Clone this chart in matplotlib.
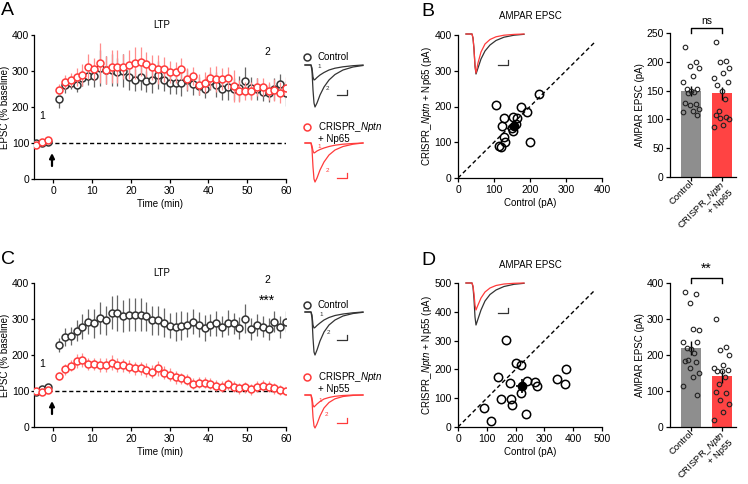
import numpy as np
import matplotlib.pyplot as plt
from matplotlib.transforms import ScaledTranslation

plt.rcParams['font.family'] = ['Liberation Sans', 'DejaVu Sans']
plt.rcParams['mathtext.fontset'] = 'custom'
plt.rcParams['mathtext.rm'] = 'Liberation Sans'
plt.rcParams['mathtext.it'] = 'Liberation Sans:italic'
plt.rcParams['axes.linewidth'] = 0.9
plt.rcParams['xtick.major.width'] = 0.9
plt.rcParams['ytick.major.width'] = 0.9
plt.rcParams['xtick.major.size'] = 3
plt.rcParams['ytick.major.size'] = 3
plt.rcParams['xtick.major.pad'] = 2
plt.rcParams['ytick.major.pad'] = 1.5

RED = '#ff3b3b'
RED_ERR = '#ff8c8c'
GRAY_BAR = '#8e8e8e'
RED_BAR = '#ff4343'

# ---------------- data ----------------
# time course sampling (min)
time_base = [-4.5, -3, -1.5]
time_post = np.arange(1.5, 60.1, 1.5)

# A: LTP, control vs CRISPR_Nptn + Np65
a_ctrl = [100, 100, 103,
          223, 260, 268, 262, 280, 285, 285, 308, 303, 303, 297, 301, 283, 275, 283, 271,
          275, 289, 275, 266, 266, 266, 275, 264, 259, 250, 271, 262, 250, 255, 250, 252,
          271, 252, 250, 241, 238, 250, 263, 238]
a_ctrl_err = [5, 5, 5,
              25, 20, 18, 20, 22, 25, 30, 50, 40, 45, 40, 45, 35, 30, 35, 30,
              35, 40, 30, 30, 30, 35, 30, 30, 25, 25, 25, 35, 30, 35, 30, 35,
              40, 30, 30, 25, 25, 30, 30, 35]
a_np65 = [95, 103, 108,
          248, 269, 275, 283, 289, 312, 305, 322, 303, 312, 312, 312, 317, 322, 326, 319,
          310, 305, 305, 298, 296, 305, 277, 287, 262, 268, 280, 278, 278, 281, 258, 245,
          245, 245, 255, 255, 245, 248, 240, 253]
a_np65_err = [5, 5, 6,
              15, 20, 20, 25, 30, 35, 30, 55, 40, 45, 45, 35, 40, 45, 40, 35,
              35, 40, 35, 30, 30, 30, 30, 25, 30, 30, 30, 35, 30, 30, 45, 30,
              25, 25, 25, 25, 25, 30, 30, 30]

# C: LTP, control vs CRISPR_Nptn + Np55
c_ctrl = [98, 105, 112,
          227, 251, 254, 268, 279, 293, 288, 302, 296, 318, 318, 309, 312, 312, 312, 307,
          296, 296, 290, 281, 279, 281, 284, 293, 284, 275, 284, 288, 279, 290, 288, 275,
          301, 272, 284, 279, 272, 293, 277, 293]
c_ctrl_err = [6, 6, 8,
              20, 25, 25, 30, 35, 35, 40, 45, 40, 45, 50, 45, 45, 45, 45, 40,
              40, 40, 40, 35, 40, 40, 35, 35, 35, 35, 30, 35, 30, 35, 30, 30,
              40, 30, 30, 30, 30, 30, 30, 30]
c_np55 = [100, 97, 102,
          142, 160, 170, 184, 186, 175, 175, 172, 172, 179, 172, 172, 168, 163, 163, 158,
          154, 163, 151, 145, 138, 135, 131, 120, 123, 123, 120, 115, 112, 119, 112, 107,
          110, 105, 112, 115, 112, 107, 103, 101]
c_np55_err = [5, 5, 5,
              12, 15, 15, 20, 20, 18, 18, 20, 20, 20, 20, 18, 18, 18, 18, 20,
              18, 20, 18, 18, 18, 15, 15, 15, 15, 15, 15, 15, 15, 15, 15, 15,
              15, 15, 15, 15, 15, 15, 15, 15]

# B: paired AMPAR EPSC (pA)
b_ctrl_pa = [106, 127, 121, 153, 176, 165, 191, 226, 127, 130, 113, 119, 152, 200, 150, 162]
b_np65_pa = [204, 167, 146, 172, 199, 167, 186, 234, 116, 100, 90, 86, 132, 100, 140, 150]
b_mean = (156, 146)
b_sem = (12, 12)

# B bars
b_bar_ctrl = [225, 200, 192, 190, 175, 165, 153, 152, 150, 147, 145, 128, 126, 125, 118, 115, 113, 107]
b_bar_np65 = [234, 202, 200, 190, 180, 172, 165, 160, 150, 135, 115, 108, 104, 102, 101, 90, 86]
b_bar_mean = [149, 145]
b_bar_sem = [9, 12]

# D: paired AMPAR EPSC (pA)
d_ctrl_pa = [166, 203, 220, 138, 179, 238, 269, 274, 344, 375, 371, 220, 151, 185, 186, 91, 116, 237]
d_np55_pa = [301, 222, 214, 174, 154, 161, 157, 142, 168, 200, 148, 118, 97, 96, 76, 67, 20, 44]
d_mean = (221, 142)
d_sem = (19, 25)

# D bars
d_bar_ctrl = [375, 370, 345, 270, 272, 237, 235, 220, 218, 205, 185, 182, 180, 165, 150, 140, 115, 90]
d_bar_np55 = [300, 222, 215, 200, 172, 165, 158, 155, 155, 140, 120, 97, 95, 75, 65, 42, 20]
d_bar_mean = [219, 141]
d_bar_sem = [20, 18]

bar_labels = ['Control', 'CRISPR_$\\it{Nptn}$']
bar_sub_b = ['', '+ Np65']
bar_sub_d = ['', '+ Np55']

# example traces (time in ms, current in arbitrary units)
trace_t = [0, 6, 7, 8, 9, 10, 12, 15, 19, 24, 30, 38, 48, 58]
a_ctrl_tr1 = [0, 0, -3, -12, -15, -14.5, -12.5, -10, -7.5, -5, -3.2, -1.8, -0.7, 0]
a_ctrl_tr2 = [0, 0, -6, -25, -38, -42, -38, -30, -22, -15, -9.5, -5, -2, -0.5]
a_np65_tr1 = [0, 0, -3, -8, -10, -9.5, -8, -6.5, -5, -3.5, -2.2, -1.2, -0.5, 0]
a_np65_tr2 = [0, 0, -6, -24, -36, -39, -35, -27, -19, -12, -7, -3.5, -1.2, 0]
c_ctrl_tr1 = [0, 0, -3, -13, -16, -15.5, -13.5, -11, -8, -5.5, -3.5, -2, -0.8, 0]
c_ctrl_tr2 = [0, 0, -6, -26, -40, -43, -38, -29, -20, -13, -8, -4, -1.5, -0.3]
c_np55_tr1 = [0, 0, -3, -10, -12, -11, -9, -6.5, -4, -2.5, -1.3, -0.5, 0, 0]
c_np55_tr2 = [0, 0, -6, -22, -31, -33, -29, -21, -13, -7.5, -3.8, -1.5, -0.4, 0]
b_ctrl_tr = [0, 0, -4, -15, -32, -40, -34, -25, -17, -11, -6.5, -3.2, -1.2, -0.3]
b_np65_tr = [0, 0, -4, -15, -32, -39, -29, -18, -10, -5.5, -2.8, -1.2, -0.4, 0]
d_ctrl_tr = [0, 0, -4, -16, -34, -42, -36, -27, -18, -11.5, -7, -3.5, -1.3, -0.3]
d_np55_tr = [0, 0, -3, -11, -22, -27, -22, -15, -9, -5, -2.5, -1, -0.3, 0]

# ---------------- figure ----------------
W, H = 748, 484
fig = plt.figure(figsize=(W / 100, H / 100), dpi=100)


def px_axes(left, top, right, bottom):
    return fig.add_axes([left / W, 1 - bottom / H, (right - left) / W, (bottom - top) / H])


def clean(ax):
    ax.spines['top'].set_visible(False)
    ax.spines['right'].set_visible(False)


def time_course(ax, ctrl, ctrl_err, ko, ko_err):
    t = np.concatenate([time_base, time_post])
    ax.axhline(100, color='black', lw=1, ls=(0, (3, 2)), zorder=1)
    ax.errorbar(t, ctrl, yerr=ctrl_err, fmt='o', ms=5, mfc='white', mec='#333333',
                mew=1.1, ecolor='#666666', elinewidth=0.9, capsize=0, zorder=3)
    ax.errorbar(t, ko, yerr=ko_err, fmt='o', ms=5, mfc='white', mec=RED,
                mew=1.1, ecolor=RED_ERR, elinewidth=0.9, capsize=0, zorder=4)
    ax.set_xlim(-5, 60)
    ax.set_ylim(0, 400)
    ax.set_xticks([0, 10, 20, 30, 40, 50, 60])
    ax.set_yticks([0, 100, 200, 300, 400])
    ax.tick_params(labelsize=7.5)
    ax.tick_params(axis='y', length=2.5, pad=1)
    ax.set_xlabel('Time (min)', fontsize=7, labelpad=2)
    ax.set_ylabel('EPSC (% baseline)', fontsize=7)
    ax.yaxis.set_label_coords(-24 / 252, 0.5)
    clean(ax)


def pair_scatter(ax, xs, ys, mean, sem, lim, diag_end, ylabel):
    ax.plot([0, diag_end], [0, diag_end], color='black', lw=1, ls=(0, (3, 2)), zorder=1)
    ax.plot(xs, ys, 'o', ms=6, mfc='none', mec='black', mew=1.1, clip_on=False, zorder=3)
    ax.errorbar([mean[0]], [mean[1]], xerr=[sem[0]], yerr=[sem[1]], fmt='o', ms=6,
                color='black', elinewidth=1.2, capsize=0, zorder=4)
    ax.set_xlim(0, lim)
    ax.set_ylim(0, lim)
    ax.set_xticks(np.arange(0, lim + 1, 100))
    ax.set_yticks(np.arange(0, lim + 1, 100))
    ax.tick_params(labelsize=7.5)
    ax.set_xlabel('Control (pA)', fontsize=7, labelpad=2)
    ax.set_ylabel(ylabel, fontsize=7)
    ax.yaxis.set_label_coords(-24 / 144, 0.5)
    clean(ax)


def bar_panel(ax, ctrl, ko, means, sems, ymax, ystep, sub, sig, sig_size, br_lo, br_hi):
    ax.bar([0, 1], means, width=0.66, color=[GRAY_BAR, RED_BAR], zorder=1)
    ax.errorbar([0, 1], means, yerr=sems, fmt='none', ecolor='black', elinewidth=1,
                capsize=0, zorder=2)
    offsets = [-0.2, 0.15, -0.05, 0.25, 0.05, -0.25, 0.2, -0.15, 0.0, 0.1, -0.1]
    for i, vals in enumerate([ctrl, ko]):
        xs = [i + offsets[k % len(offsets)] for k in range(len(vals))]
        ax.plot(xs, vals, 'o', ms=3.3, mfc='none', mec='#222222', mew=0.8, zorder=3)
    ax.plot([0, 0, 1, 1], [br_lo, br_hi, br_hi, br_lo], color='black', lw=1, clip_on=False)
    ax.text(0.5, br_hi + (br_hi - br_lo) * 0.4, sig, ha='center', va='bottom',
            fontsize=sig_size)
    ax.set_xlim(-0.69, 1.47)
    ax.set_ylim(0, ymax)
    ax.set_yticks(np.arange(0, ymax + 1, ystep))
    ax.set_xticks([0, 1])
    ax.set_xticklabels(bar_labels, rotation=45, ha='right', rotation_mode='anchor',
                       fontsize=6.8)
    ax.tick_params(axis='x', pad=0.5, length=3)
    shift = ScaledTranslation(-0.02, 0.03, fig.dpi_scale_trans)
    line2 = ScaledTranslation(0.088, -0.088, fig.dpi_scale_trans)
    for pos, lbl in enumerate(ax.get_xticklabels()):
        base_tr = lbl.get_transform()
        lbl.set_transform(base_tr + shift)
        if sub[pos]:
            ax.text(pos, 0, sub[pos], transform=base_tr + shift + line2, rotation=45,
                    ha='right', va='top', rotation_mode='anchor', fontsize=6.8)
    ax.tick_params(axis='y', labelsize=7.5)
    ax.set_ylabel('AMPAR EPSC (pA)', fontsize=7)
    ax.yaxis.set_label_coords(-25 / 66, 0.5)
    clean(ax)


def trace_axes(left, base_y, traces, colors, scale_y, nums=None):
    ax = px_axes(left, base_y - 8, left + 62, base_y + 52)
    ax.set_xlim(0, 62)
    ax.set_ylim(-52, 8)
    ax.axis('off')
    for tr, c in zip(traces, colors):
        ax.plot(trace_t, tr, color=c, lw=0.9, clip_on=False)
    ax.plot([32, 42, 42], [scale_y, scale_y, scale_y + 5], color=colors[0], lw=0.9)
    if nums:
        for txt, (nx, ny) in nums:
            ax.text(nx, ny, txt, fontsize=4.5, color=colors[0], ha='center', va='center')
    return ax


# A
axA = px_axes(34, 35, 286, 179)
time_course(axA, a_ctrl, a_ctrl_err, a_np65, a_np65_err)
# C
axC = px_axes(34, 283, 286, 427)
time_course(axC, c_ctrl, c_ctrl_err, c_np55, c_np55_err)

# B scatter
axB = px_axes(458, 35, 602, 178)
pair_scatter(axB, b_ctrl_pa, b_np65_pa, b_mean, b_sem, 400, 380,
             'CRISPR_$\\it{Nptn}$ + Np65 (pA)')
# D scatter
axD = px_axes(458, 283, 602, 427)
pair_scatter(axD, d_ctrl_pa, d_np55_pa, d_mean, d_sem, 500, 475,
             'CRISPR_$\\it{Nptn}$ + Np55 (pA)')

# bars
axBb = px_axes(670, 33, 736, 177)
bar_panel(axBb, b_bar_ctrl, b_bar_np65, b_bar_mean, b_bar_sem, 250, 50, bar_sub_b,
          'ns', 7.5, 250, 259)
axDb = px_axes(670, 283, 736, 427)
bar_panel(axDb, d_bar_ctrl, d_bar_np55, d_bar_mean, d_bar_sem, 400, 100, bar_sub_d,
          '**', 10, 400, 414)

# example traces
trace_axes(305, 65, [a_ctrl_tr1, a_ctrl_tr2], ['#333333', '#333333'], -30,
           [('1', (14, -2)), ('2', (22, -23))])
trace_axes(305, 143, [a_np65_tr1, a_np65_tr2], [RED, RED], -35,
           [('1', (14, -3)), ('2', (22, -27))])
trace_axes(305, 312, [c_ctrl_tr1, c_ctrl_tr2], ['#333333', '#333333'], -28,
           [('1', (16, -2)), ('2', (23, -21))])
trace_axes(305, 395, [c_np55_tr1, c_np55_tr2], [RED, RED], -28,
           [('1', (15, -5)), ('2', (21, -19))])
trace_axes(466, 34, [b_ctrl_tr, b_np65_tr], ['#333333', RED], -31)
trace_axes(466, 283, [d_ctrl_tr, d_np55_tr], ['#333333', RED], -30)

# overlay for annotations (pixel coordinates)
ov = fig.add_axes([0, 0, 1, 1])
ov.set_xlim(0, W)
ov.set_ylim(H, 0)
ov.axis('off')

for letter, (x, y) in zip('ABCD', [(1, 2), (421, 3), (1, 251), (421, 252)]):
    ov.text(x, y, letter, fontsize=14, ha='left', va='top')

ov.text(162, 25, 'LTP', fontsize=7, ha='center', va='center')
ov.text(162, 273, 'LTP', fontsize=7, ha='center', va='center')
ov.text(42, 116, '1', fontsize=7.5, ha='center', va='center')
ov.text(42, 364, '1', fontsize=7.5, ha='center', va='center')
ov.text(267, 52, '2', fontsize=7.5, ha='center', va='center')
ov.text(267, 280, '2', fontsize=7.5, ha='center', va='center')
ov.text(267, 301, '***', fontsize=10, ha='center', va='center')
for y0 in (153, 401):
    ov.annotate('', xy=(52, y0), xytext=(52, y0 + 13),
                arrowprops=dict(arrowstyle='-|>', lw=1.6, color='black', mutation_scale=7,
                                shrinkA=0, shrinkB=0))

# legends next to traces
for y0, lab in [(57, 'Control'), (305, 'Control')]:
    ov.plot(307, y0, 'o', ms=5, mfc='white', mec='#333333', mew=1.1)
    ov.text(318, y0, lab, fontsize=7, ha='left', va='center')
for y0, lab in [(127, '+ Np65'), (377, '+ Np55')]:
    ov.plot(307, y0, 'o', ms=5, mfc='white', mec=RED, mew=1.1)
    ov.text(318, y0, 'CRISPR_$\\it{Nptn}$', fontsize=7, ha='left', va='center')
    ov.text(318, y0 + 12, lab, fontsize=7, ha='left', va='center')

ov.text(530, 16, 'AMPAR EPSC', fontsize=7, ha='center', va='center')
ov.text(530, 265, 'AMPAR EPSC', fontsize=7, ha='center', va='center')

fig.savefig('out.png', dpi=100)
